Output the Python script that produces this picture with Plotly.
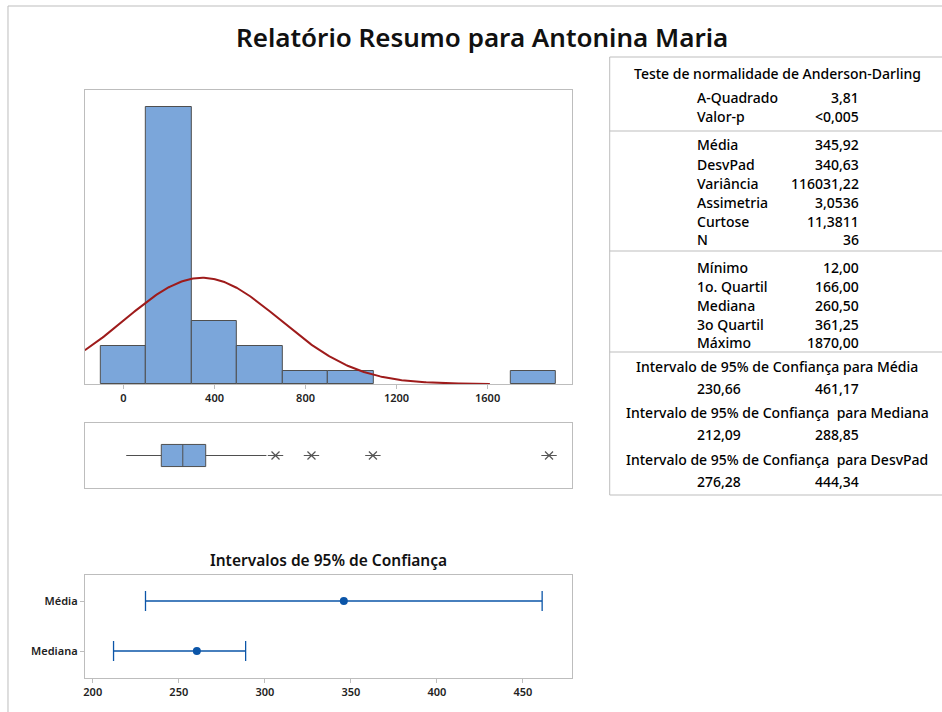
import numpy as np
from plotly import graph_objects as go

W, H = 942, 712

# histogram (bin centres, width 200)
bin_centers = [0, 200, 400, 600, 800, 1000, 1800]
bin_counts = [3, 22, 5, 3, 1, 1, 1]
bin_width = 200

# summary statistics
n_obs = 36
mean_val = 345.92
sd_val = 340.63
q1_val = 166.00
median_val = 260.50
q3_val = 361.25
min_val = 12.00
upper_whisker = 628
outliers = [668, 826, 1096, 1870]

# confidence intervals
ci_labels = ['Média', 'Mediana']
ci_center = [mean_val, median_val]
ci_low = [230.66, 212.09]
ci_high = [461.17, 288.85]

stat_rows = [
    ('A-Quadrado', '3,81'), ('Valor-p', '<0,005'),
    ('Média', '345,92'), ('DesvPad', '340,63'), ('Variância', '116031,22'),
    ('Assimetria', '3,0536'), ('Curtose', '11,3811'), ('N', '36'),
    ('Mínimo', '12,00'), ('1o. Quartil', '166,00'), ('Mediana', '260,50'),
    ('3o Quartil', '361,25'), ('Máximo', '1870,00'),
]
stat_rows_y = [98, 117, 145, 164, 183, 202, 221, 239, 267, 286, 305, 324, 342]
ci_blocks = [
    ('Intervalo de 95% de Confiança para Média', '230,66', '461,17'),
    ('Intervalo de 95% de Confiança  para Mediana', '212,09', '288,85'),
    ('Intervalo de 95% de Confiança  para DesvPad', '276,28', '444,34'),
]
ci_blocks_y = [366, 412, 459]

FONT = 'Noto Sans'
BAR = '#7BA6DA'
EDGE = '#4F4F4F'
FRAME = '#BDBDBD'
BLUE = '#0B55A8'


def px(x):
    return x / W


def py(y):
    return 1 - y / H


fig = go.Figure()

fig.add_trace(go.Bar(
    x=bin_centers, y=bin_counts, width=bin_width,
    marker=dict(color=BAR, line=dict(color=EDGE, width=1)),
    xaxis='x', yaxis='y'))

# fitted normal curve
xs = np.linspace(-170, 1610, 300)
ys = n_obs * bin_width / (sd_val * np.sqrt(2 * np.pi)) * np.exp(-0.5 * ((xs - mean_val) / sd_val) ** 2)
fig.add_trace(go.Scatter(x=xs, y=ys, mode='lines', line=dict(color='#9E1B1B', width=2),
                         xaxis='x', yaxis='y'))

# boxplot
fig.add_trace(go.Box(
    y=[0], q1=[q1_val], median=[median_val], q3=[q3_val],
    lowerfence=[min_val], upperfence=[upper_whisker], orientation='h',
    width=0.68, whiskerwidth=0, boxpoints=False,
    fillcolor=BAR, line=dict(color=EDGE, width=1),
    xaxis='x2', yaxis='y2'))
# outlier marks: an X with a horizontal bar, as Minitab draws them
for sym, size in [('x-thin-open', 8), ('line-ew-open', 11)]:
    fig.add_trace(go.Scatter(
        x=outliers, y=[0] * len(outliers), mode='markers',
        marker=dict(symbol=sym, size=size, color='#555555', line=dict(width=1.2, color='#555555')),
        xaxis='x2', yaxis='y2'))

# confidence intervals
fig.add_trace(go.Scatter(
    x=ci_center, y=[1, 0], mode='markers',
    marker=dict(color=BLUE, size=8),
    error_x=dict(type='data', symmetric=False,
                 array=[h - c for h, c in zip(ci_high, ci_center)],
                 arrayminus=[c - l for c, l in zip(ci_center, ci_low)],
                 color=BLUE, thickness=1.3, width=10),
    xaxis='x3', yaxis='y3'))

dom_x = [px(83), px(571)]
axis_common = dict(showline=True, linecolor=FRAME, linewidth=1, mirror=True,
                   showgrid=False, zeroline=False)
tickfont = dict(family=FONT, size=11, color='#222222', weight=600)

fig.update_layout(
    width=W, height=H, margin=dict(l=0, r=0, t=0, b=0),
    paper_bgcolor='white', plot_bgcolor='white', showlegend=False,
    font=dict(family=FONT, color='#111111'),
    bargap=0,
    xaxis=dict(domain=dom_x, anchor='y', range=[-170, 1970], tickvals=[0, 400, 800, 1200, 1600],
               ticks='outside', ticklen=4, tickcolor=FRAME, tickfont=tickfont, **axis_common),
    yaxis=dict(domain=[py(384), py(90)], anchor='x', range=[0, 23.35], showticklabels=False, **axis_common),
    xaxis2=dict(domain=dom_x, anchor='y2', range=[-170, 1970], showticklabels=False, **axis_common),
    yaxis2=dict(domain=[py(488), py(423)], anchor='x2', range=[-1, 1], showticklabels=False, **axis_common),
    xaxis3=dict(domain=dom_x, anchor='y3', range=[195.4, 478.4], tickvals=[200, 250, 300, 350, 400, 450],
                ticks='outside', ticklen=4, tickcolor=FRAME, tickfont=tickfont, **axis_common),
    yaxis3=dict(domain=[py(678), py(575)], anchor='x3', range=[-0.54, 1.52], tickvals=[1, 0],
                ticktext=ci_labels, ticks='outside', ticklen=4, tickcolor=FRAME, tickfont=tickfont,
                **axis_common),
)

ann = []
ann.append(dict(x=px(481), y=py(37), text='Relatório Resumo para Antonina Maria',
                font=dict(family=FONT, size=26, color='#111111', weight=600)))
ann.append(dict(x=px(327), y=py(560), text='Intervalos de 95% de Confiança',
                font=dict(family=FONT, size=15.5, color='#111111', weight=600)))

tfont = dict(family=FONT, size=14, color='#000000', weight=500)
ann.append(dict(x=px(777), y=py(74), text='Teste de normalidade de Anderson-Darling', font=tfont))
for (lab, val), yy in zip(stat_rows, stat_rows_y):
    ann.append(dict(x=px(695), y=py(yy), text=lab, xanchor='left', font=tfont))
    ann.append(dict(x=px(860), y=py(yy), text=val, xanchor='right', font=tfont))
for (head, lo, hi), yy in zip(ci_blocks, ci_blocks_y):
    ann.append(dict(x=px(777), y=py(yy), text=head, font=tfont))
    ann.append(dict(x=px(695), y=py(yy + 22), text=lo, xanchor='left', font=tfont))
    ann.append(dict(x=px(860), y=py(yy + 22), text=hi, xanchor='right', font=tfont))

for a in ann:
    a.update(xref='paper', yref='paper', showarrow=False, borderpad=0)
    a.setdefault('xanchor', 'center')
    a.setdefault('yanchor', 'middle')
fig.update_layout(annotations=ann)

shapes = []
# outer frame
shapes.append(dict(type='line', x0=px(6), x1=1, y0=py(6), y1=py(6)))
shapes.append(dict(type='line', x0=px(6), x1=px(6), y0=py(6), y1=0))
# statistics table
shapes.append(dict(type='line', x0=px(609), x1=1, y0=py(57), y1=py(57)))
shapes.append(dict(type='line', x0=px(609), x1=1, y0=py(495), y1=py(495)))
shapes.append(dict(type='line', x0=px(609), x1=px(609), y0=py(57), y1=py(495)))
for yy in [131, 251, 352]:
    shapes.append(dict(type='line', x0=px(609), x1=1, y0=py(yy), y1=py(yy)))
for s in shapes:
    s.update(xref='paper', yref='paper', line=dict(color=FRAME, width=1))
fig.update_layout(shapes=shapes)

# drop the default page margin so the figure sits at the window's top-left corner
fig.write_html('out.html', config={'displayModeBar': False},
               post_script="document.body.style.margin='0';")
